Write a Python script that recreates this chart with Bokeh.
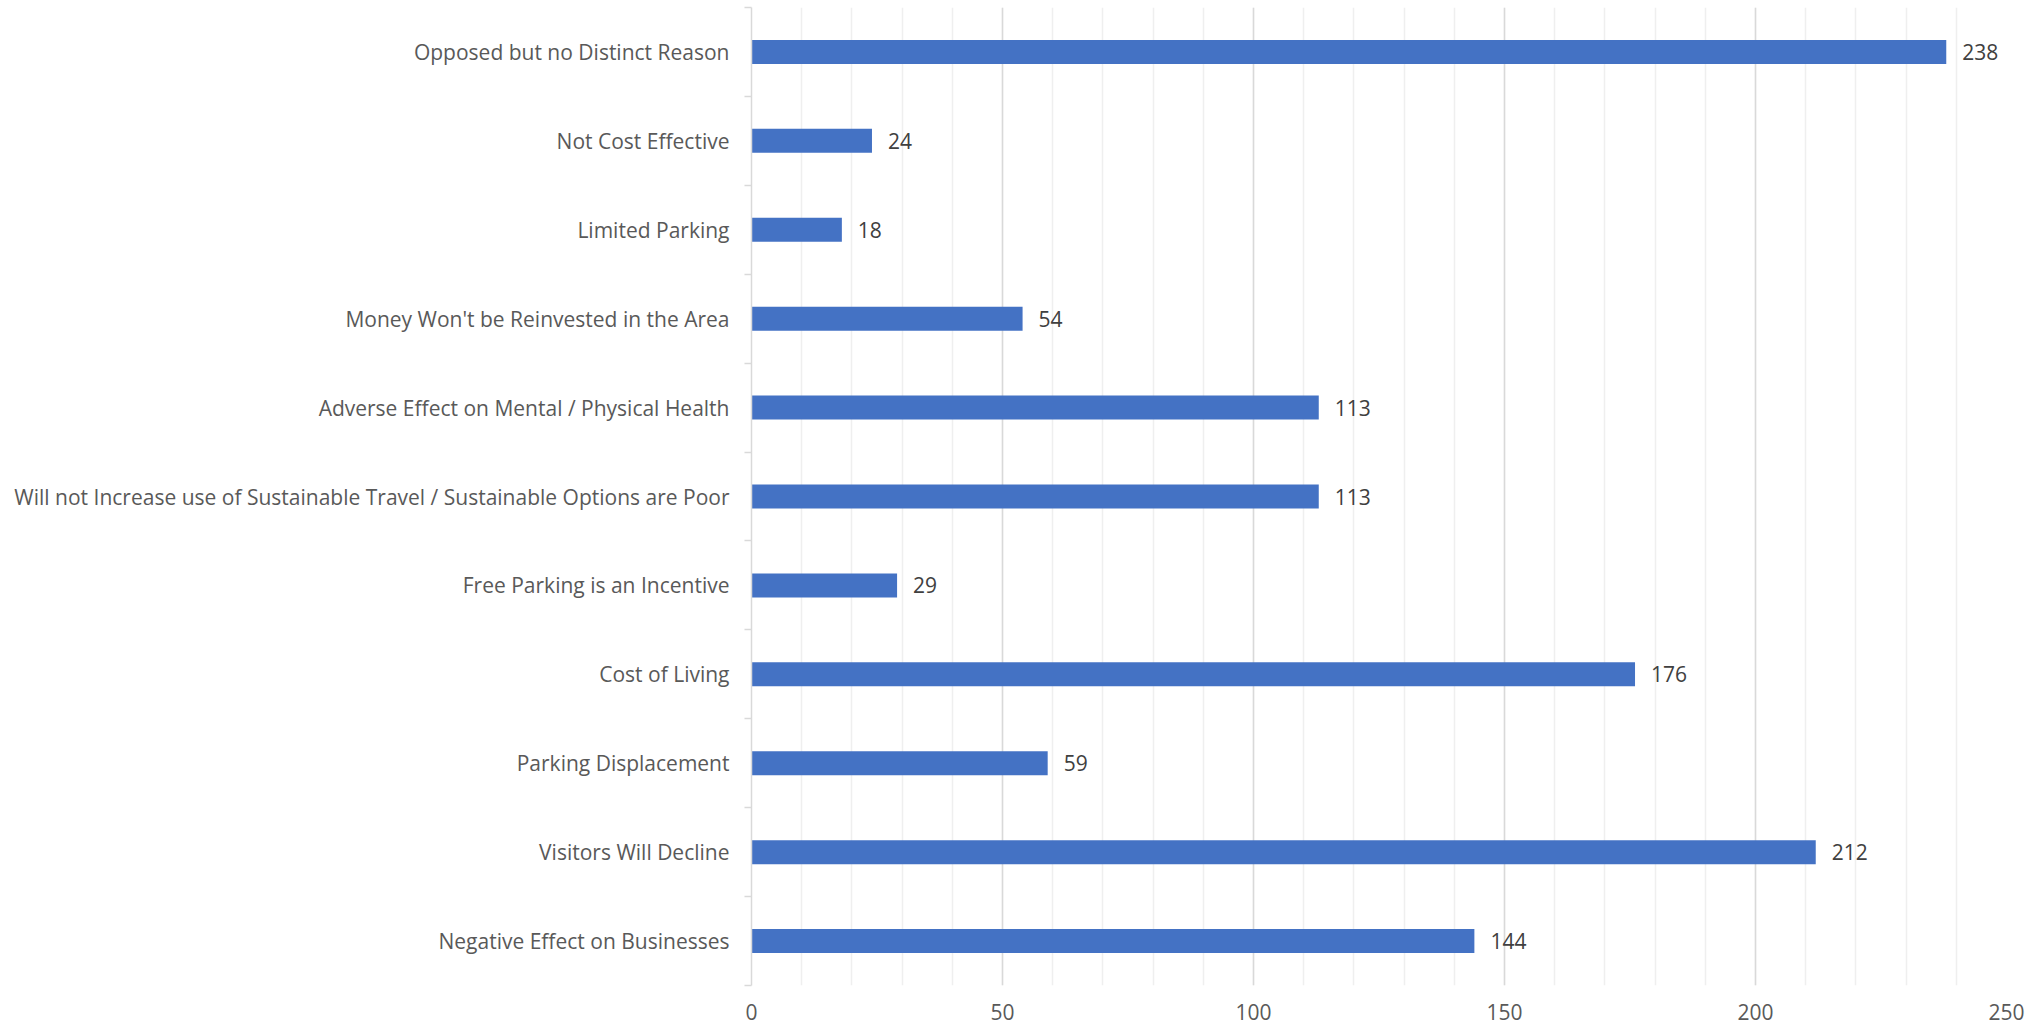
from bokeh.plotting import figure
from bokeh.models import FixedTicker, ColumnDataSource, Range1d
from bokeh.core.properties import value
from bokeh.embed import file_html
from bokeh.resources import INLINE

categories = [
    "Opposed but no Distinct Reason",
    "Not Cost Effective",
    "Limited Parking",
    "Money Won't be Reinvested in the Area",
    "Adverse Effect on Mental / Physical Health",
    "Will not Increase use of Sustainable Travel / Sustainable Options are Poor",
    "Free Parking is an Incentive",
    "Cost of Living",
    "Parking Displacement",
    "Visitors Will Decline",
    "Negative Effect on Businesses",
]
counts = [238, 24, 18, 54, 113, 113, 29, 176, 59, 212, 144]
x_ticks = [0, 50, 100, 150, 200, 250]
x_minor = list(range(0, 251, 10))

n = len(categories)
ypos = [n - 1 - i for i in range(n)]

src = ColumnDataSource(dict(y=ypos, v=counts, t=[str(c) for c in counts]))

FONT = "Open Sans"

p = figure(width=2041, height=1029, output_backend="svg", toolbar_location=None,
           x_range=Range1d(0, 250), y_range=Range1d(-0.5, n - 0.5),
           min_border_left=751, min_border_right=35, min_border_top=7,
           min_border_bottom=44)
p.outline_line_color = None
p.background_fill_color = "white"
p.border_fill_color = "white"

p.hbar(y="y", left=0, right="v", height=0.27, source=src,
       fill_color="#4472C4", line_color=None)

p.text(x="v", y="y", text="t", source=src, x_offset=16,
       text_align="left", text_baseline="middle",
       text_font=value(FONT), text_font_size="21px", text_color="#404040")

# x axis
p.xaxis.ticker = FixedTicker(ticks=x_ticks, minor_ticks=x_minor)
p.xaxis.axis_line_color = None
p.xaxis.major_tick_line_color = None
p.xaxis.minor_tick_line_color = None
p.xaxis.major_tick_out = 0
p.xaxis.minor_tick_out = 0
p.xaxis.major_label_standoff = 18
p.xaxis.major_label_text_font = FONT
p.xaxis.major_label_text_font_size = "21px"
p.xaxis.major_label_text_color = "#595959"

p.xgrid.grid_line_color = "#d9d9d9"
p.xgrid.grid_line_width = 1.5
p.xgrid.minor_grid_line_color = "#efefef"
p.xgrid.minor_grid_line_width = 1.5
p.ygrid.grid_line_color = None

# y axis
p.yaxis.ticker = FixedTicker(ticks=ypos, minor_ticks=[k - 0.5 for k in range(n + 1)])
p.yaxis.major_label_overrides = {y: c for y, c in zip(ypos, categories)}
p.yaxis.axis_line_color = "#d9d9d9"
p.yaxis.axis_line_width = 1.5
p.yaxis.major_tick_line_color = None
p.yaxis.major_tick_out = 0
p.yaxis.major_tick_in = 0
p.yaxis.minor_tick_line_color = "#d9d9d9"
p.yaxis.minor_tick_line_width = 1.5
p.yaxis.minor_tick_out = 7
p.yaxis.minor_tick_in = 0
p.yaxis.major_label_standoff = 15
p.yaxis.major_label_text_font = FONT
p.yaxis.major_label_text_font_size = "21px"
p.yaxis.major_label_text_color = "#595959"

html = file_html(p, INLINE)
html = html.replace("</head>", "<style>html,body{margin:0;padding:0;overflow:hidden}</style></head>", 1)
open("out.html", "w").write(html)
